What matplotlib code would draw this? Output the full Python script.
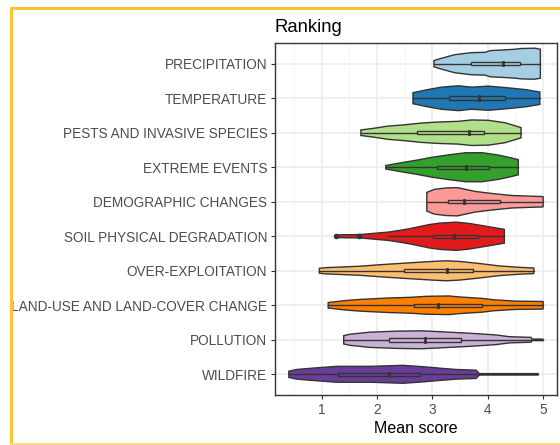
import numpy as np
import matplotlib
matplotlib.use("Agg")
import matplotlib.pyplot as plt
from matplotlib.patches import Rectangle
from matplotlib.lines import Line2D

plt.rcParams['font.family'] = ['Liberation Sans', 'DejaVu Sans']

# categories, top to bottom
categories = ["PRECIPITATION", "TEMPERATURE", "PESTS AND INVASIVE SPECIES",
              "EXTREME EVENTS", "DEMOGRAPHIC CHANGES", "SOIL PHYSICAL DEGRADATION",
              "OVER-EXPLOITATION", "LAND-USE AND LAND-COVER CHANGE", "POLLUTION",
              "WILDFIRE"]
colors = ["#A6CEE3", "#1F78B4", "#B2DF8A", "#33A02C", "#FB9A99",
          "#E31A1C", "#FDBF6F", "#FF7F00", "#CAB2D6", "#6A3D9A"]

# violin outlines: score positions and half widths (category units)
violin_x = [
    [3.03, 3.15, 3.4, 3.7, 3.95, 4.05, 4.3, 4.5, 4.6, 4.85, 4.95],
    [2.65, 2.92, 3.16, 3.47, 3.71, 4.01, 4.31, 4.68, 4.94],
    [1.71, 1.95, 2.19, 2.5, 2.8, 3.1, 3.47, 3.71, 4.01, 4.31, 4.6],
    [2.16, 2.4, 2.7, 3.0, 3.3, 3.6, 3.9, 4.2, 4.4, 4.55],
    [2.9, 3.04, 3.25, 3.45, 3.77, 4.07, 4.44, 4.8, 5.0],
    [1.26, 1.7, 2.2, 2.41, 2.59, 2.77, 2.95, 3.13, 3.43, 3.67, 3.97, 4.3],
    [0.96, 1.07, 1.68, 2.1, 2.59, 3.0, 3.25, 3.49, 3.85, 4.21, 4.57, 4.83],
    [1.12, 1.45, 1.7, 2.2, 2.6, 2.9, 3.3, 3.5, 3.9, 4.1, 4.5, 5.0],
    [1.4, 1.51, 1.87, 2.35, 2.8, 3.07, 3.67, 4.15, 4.39, 4.78, 4.8, 5.0],
    [0.41, 0.55, 0.85, 1.27, 1.87, 2.47, 2.83, 3.19, 3.43, 3.79, 3.85, 4.91],
]
violin_w = [
    [0.09, 0.15, 0.26, 0.32, 0.33, 0.38, 0.40, 0.42, 0.44, 0.45, 0.42],
    [0.16, 0.25, 0.32, 0.36, 0.32, 0.35, 0.31, 0.25, 0.18],
    [0.08, 0.13, 0.19, 0.23, 0.28, 0.31, 0.33, 0.37, 0.36, 0.29, 0.15],
    [0.05, 0.12, 0.20, 0.29, 0.36, 0.42, 0.42, 0.35, 0.28, 0.22],
    [0.27, 0.36, 0.40, 0.41, 0.30, 0.24, 0.18, 0.16, 0.15],
    [0.04, 0.05, 0.12, 0.17, 0.22, 0.28, 0.34, 0.38, 0.41, 0.37, 0.29, 0.20],
    [0.07, 0.09, 0.13, 0.18, 0.23, 0.27, 0.29, 0.27, 0.21, 0.14, 0.10, 0.08],
    [0.08, 0.14, 0.17, 0.21, 0.23, 0.26, 0.27, 0.24, 0.20, 0.16, 0.12, 0.11],
    [0.12, 0.16, 0.22, 0.25, 0.26, 0.24, 0.19, 0.14, 0.09, 0.07, 0.02, 0.02],
    [0.09, 0.14, 0.18, 0.23, 0.23, 0.26, 0.22, 0.17, 0.14, 0.12, 0.02, 0.02],
]

# box plot stats
whisk_lo = [3.03, 2.65, 1.71, 2.16, 2.90, 2.20, 0.96, 1.12, 1.40, 0.41]
q1 = [3.70, 3.30, 2.72, 3.09, 3.29, 3.01, 2.49, 2.67, 2.22, 1.29]
median = [4.27, 3.84, 3.66, 3.61, 3.58, 3.39, 3.26, 3.10, 2.87, 2.22]
q3 = [4.58, 4.31, 3.94, 4.02, 4.23, 3.83, 3.73, 3.89, 3.51, 2.77]
whisk_hi = [4.95, 4.94, 4.60, 4.55, 5.00, 4.30, 4.83, 5.00, 5.00, 4.91]
outliers = {"SOIL PHYSICAL DEGRADATION": [1.27, 1.68]}

edge = "#333333"
fig = plt.figure(figsize=(5.6, 4.45), dpi=100)
ax = fig.add_axes([275 / 560, 1 - 395 / 445, 282 / 560, 352 / 445])

n = len(categories)
for i, cat in enumerate(categories):
    y = n - i
    vx = np.array(violin_x[i])
    vw = np.array(violin_w[i])
    px = np.concatenate([vx, vx[::-1]])
    py = np.concatenate([y + vw, (y - vw)[::-1]])
    ax.fill(px, py, facecolor=colors[i], edgecolor=edge, lw=1.0, zorder=3)
    ax.plot([whisk_lo[i], whisk_hi[i]], [y, y], color=edge, lw=1.0, zorder=4)
    ax.add_patch(Rectangle((q1[i], y - 0.05), q3[i] - q1[i], 0.1,
                           facecolor=colors[i], edgecolor=edge, lw=1.0, zorder=5))
    ax.plot([median[i], median[i]], [y - 0.05, y + 0.05], color=edge, lw=2, zorder=6)
    if cat in outliers:
        ax.plot(outliers[cat], [y] * len(outliers[cat]), 'o', color=edge, ms=3, zorder=6)

ax.set_xlim(0.16, 5.25)
ax.set_ylim(0.4, n + 0.6)
ax.set_yticks(range(1, n + 1))
ax.set_yticklabels(categories[::-1])
ax.set_xticks([1, 2, 3, 4, 5])
ax.set_xticks([0.5, 1.5, 2.5, 3.5, 4.5], minor=True)
ax.grid(True, which='major', color="#EBEBEB", lw=1.1, zorder=0)
ax.grid(True, which='minor', axis='x', color="#F2F2F2", lw=0.6, zorder=0)
ax.set_axisbelow(True)
ax.tick_params(axis='both', which='major', colors="#333333", length=3, width=0.8,
               labelsize=9.8, labelcolor="#4D4D4D", pad=2.5)
ax.tick_params(axis='x', which='minor', length=0)
for s in ax.spines.values():
    s.set_color("#333333")
    s.set_linewidth(1.0)

ax.set_xlabel("Mean score", fontsize=11.5, color="black", labelpad=3)
ax.set_title("Ranking", fontsize=13.3, loc='left', pad=8)

# frame around the figure
fig.add_artist(Line2D([10.5 / 560, 10.5 / 560], [1.5 / 445, 1 - 7.5 / 445],
                      color="#FFC233", lw=2.2, transform=fig.transFigure))
fig.add_artist(Line2D([10.5 / 560, 1.0], [1 - 7.5 / 445, 1 - 7.5 / 445],
                      color="#FFC233", lw=2.2, transform=fig.transFigure))
fig.add_artist(Line2D([10.5 / 560, 1.0], [1.5 / 445, 1.5 / 445],
                      color="#FFDC80", lw=2.0, transform=fig.transFigure))

fig.savefig("out.png", dpi=100)
